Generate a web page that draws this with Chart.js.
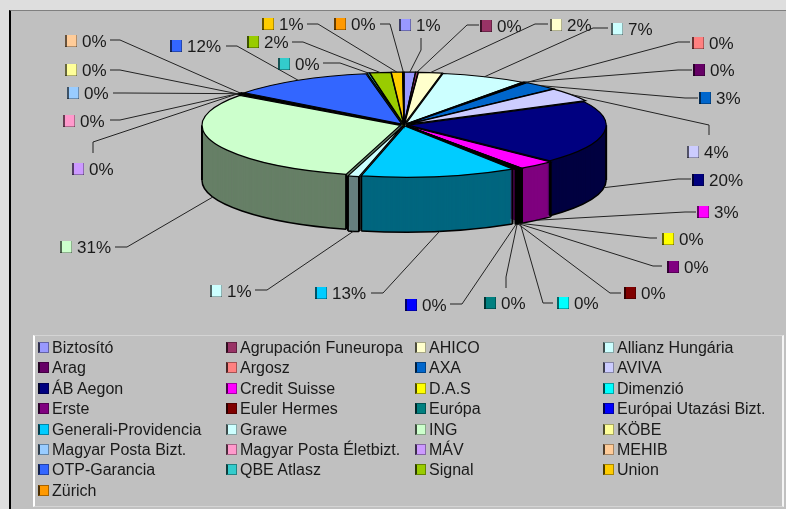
<!DOCTYPE html>
<html>
<head>
<meta charset="utf-8">
<script src="https://cdn.jsdelivr.net/npm/chart.js@4"></script>
<style>
  html, body { margin: 0; padding: 0; background: #dedede; overflow: hidden; }
  #plot { position: absolute; left: 9px; top: 10px; width: 777px; height: 499px; background: #c0c0c0;
          border-left: 2px solid #000; border-top: 1px solid #808080; box-sizing: border-box; }
  #chart { position: absolute; left: 0; top: 0; }
  #legend { position: absolute; left: 33px; top: 335px; width: 751px; height: 172px; box-sizing: border-box;
            border-left: 2px solid #fff; border-right: 2px solid #f4f4f4; border-top: 1px solid #d4d4d4; border-bottom: 1px solid #d4d4d4; }
  .item { position: absolute; height: 20px; font: 16px/20px "Liberation Sans", Arial, sans-serif; color: #1a1a1a; white-space: nowrap; }
  .item i { position: absolute; left: 0; top: 4px; width: 11px; height: 11px; box-sizing: border-box; border: 1px solid rgba(0,0,0,.35); border-left: 2px solid rgba(0,0,0,.7); }
  .item span { position: absolute; left: 14px; top: 0; }
</style>
</head>
<body>
<div id="plot"></div>
<canvas id="chart" width="786" height="509"></canvas>
<div id="legend"></div>
<script>
const categories = ["Biztosító", "Agrupación Funeuropa", "AHICO", "Allianz Hungária", "Arag", "Argosz", "AXA", "AVIVA",
  "ÁB Aegon", "Credit Suisse", "D.A.S", "Dimenzió", "Erste", "Euler Hermes", "Európa", "Európai Utazási Bizt.",
  "Generali-Providencia", "Grawe", "ING", "KÖBE", "Magyar Posta Bizt.", "Magyar Posta Életbizt.", "MÁV", "MEHIB",
  "OTP-Garancia", "QBE Atlasz", "Signal", "Union", "Zürich"];
const shares = [0.9, 0.2, 1.9, 6.9, 0.2, 0.1, 2.8, 4.4,
  19.9, 3.0, 0.1, 0.1, 0.1, 0.1, 0.1, 0.1,
  12.6, 0.9, 30.6, 0.05, 0.05, 0.05, 0.05, 0.3,
  11.6, 0.2, 1.7, 0.9, 0.1];
const colors = ["#9999ff", "#993366", "#ffffcc", "#ccffff", "#660066", "#ff8080", "#0066cc", "#ccccff",
  "#000080", "#ff00ff", "#ffff00", "#00ffff", "#800080", "#800000", "#008080", "#0000ff",
  "#00ccff", "#ccffff", "#ccffcc", "#ffff99", "#99ccff", "#ff99cc", "#cc99ff", "#ffcc99",
  "#3366ff", "#33cccc", "#99cc00", "#ffcc00", "#ff9900"];

// callout placement, same order as categories: swatch x, label y, elbow x/y, line end x/y
const callouts = [
  [399, 25, 421, 50, 421, 38], [480, 26, 467, 25, 479, 25], [550, 25, 535, 24, 548, 24], [611, 29, 593, 28, 608, 28],
  [693, 70, 678, 70, 692, 70], [692, 43, 678, 42, 690, 42], [699, 98, 685, 98, 698, 98], [687, 152, 709, 125, 709, 135],
  [692, 180, 678, 179, 691, 179], [697, 212, 685, 212, 696, 212], [662, 239, 650, 238, 657, 238], [557, 303, 543, 303, 553, 303],
  [667, 267, 653, 266, 662, 266], [624, 293, 610, 293, 621, 293], [484, 303, 506, 277, 506, 288], [405, 305, 462, 304, 450, 304],
  [315, 293, 383, 293, 371, 293], [210, 291, 267, 290, 255, 290], [60, 247, 127, 247, 115, 247], [65, 70, 120, 70, 110, 70],
  [67, 93, 125, 93, 113, 93], [63, 121, 120, 120, 110, 120], [72, 169, 93, 142, 93, 153], [65, 41, 120, 40, 110, 40],
  [170, 46, 237, 46, 226, 46], [278, 64, 340, 63, 323, 63], [247, 42, 303, 42, 292, 42], [262, 24, 318, 24, 307, 24],
  [334, 24, 390, 24, 380, 24]
];

const centerX = 404, centerY = 125, squash = 0.257, depth = 55;
const legendCols = [3, 191, 380, 568], legendRowH = 20.4;

function darken(hex) {
  const n = parseInt(hex.slice(1), 16);
  return `rgb(${(n >> 16) >> 1},${((n >> 8) & 255) >> 1},${(n & 255) >> 1})`;
}

// rim point of a slice in page coordinates
function rimPoint(arc, angle, dy) {
  const off = arc.options.offset / 4;
  const mid = (arc.startAngle + arc.endAngle) / 2;
  const fix = 1 - Math.sin(Math.min(Math.PI, arc.circumference));
  const r = arc.outerRadius + off * fix;
  return {
    x: centerX + Math.cos(mid) * off + Math.cos(angle) * r,
    y: centerY + dy + (Math.sin(mid) * off + Math.sin(angle) * r) * squash
  };
}

function project(ctx, arc, dy) {
  ctx.translate(centerX, centerY + dy);
  ctx.scale(1, squash);
  ctx.translate(-arc.x, -arc.y);
}

function strokeFace(ctx, arc, dy, rimOnly) {
  const off = arc.options.offset / 4;
  const mid = (arc.startAngle + arc.endAngle) / 2;
  const fix = 1 - Math.sin(Math.min(Math.PI, arc.circumference));
  // the lower rim only shows on the front half
  const from = rimOnly ? Math.max(arc.startAngle, 0) : arc.startAngle;
  const to = rimOnly ? Math.min(arc.endAngle, Math.PI) : arc.endAngle;
  if (to <= from) return;
  ctx.save();
  project(ctx, arc, dy);
  ctx.translate(Math.cos(mid) * off, Math.sin(mid) * off);
  ctx.beginPath();
  if (!rimOnly) ctx.moveTo(arc.x, arc.y);
  ctx.arc(arc.x, arc.y, arc.outerRadius + off * fix, from, to);
  if (!rimOnly) ctx.closePath();
  ctx.restore();
  ctx.strokeStyle = "#000";
  ctx.lineWidth = rimOnly ? 1.5 : 1.2;
  ctx.stroke();
}

const pie3d = {
  id: "pie3d",
  beforeDatasetsDraw(chart) {
    const ctx = chart.ctx;
    const arcs = chart.getDatasetMeta(0).data;
    const base = arcs.map((a) => a.options);

    // walls: stack the library's arcs from the bottom up
    arcs.forEach((a, i) => { a.options = Object.assign({}, base[i], { backgroundColor: darken(colors[i]), borderWidth: 0 }); });
    for (let dy = depth; dy > 0; dy--) {
      arcs.forEach((a) => {
        ctx.save();
        project(ctx, a, dy);
        a.draw(ctx);
        ctx.restore();
      });
    }
    arcs.forEach((a) => {
      strokeFace(ctx, a, depth, true);
      // upright edges on the visible half, plus the two silhouette edges
      [a.startAngle, a.endAngle, 0, Math.PI].forEach((ang, k) => {
        if (k > 1 && (ang < a.startAngle || ang > a.endAngle)) return;
        if (Math.sin(ang) < -0.001) return;
        const p = rimPoint(a, ang, 0);
        ctx.beginPath();
        ctx.moveTo(p.x, p.y);
        ctx.lineTo(p.x, p.y + depth);
        ctx.strokeStyle = "#000";
        ctx.lineWidth = 2;
        ctx.stroke();
      });
    });

    // top face
    arcs.forEach((a, i) => {
      a.options = Object.assign({}, base[i], { borderWidth: 0 });
      ctx.save();
      project(ctx, a, 0);
      a.draw(ctx);
      ctx.restore();
      strokeFace(ctx, a, 0, false);
      a.options = base[i];
    });
    return false;
  },
  afterDraw(chart) {
    const ctx = chart.ctx;
    const arcs = chart.getDatasetMeta(0).data;
    const total = shares.reduce((s, v) => s + v, 0);
    ctx.save();
    ctx.font = '17px "Liberation Sans", Arial, sans-serif';
    ctx.textBaseline = "middle";
    ctx.textAlign = "left";
    arcs.forEach((a, i) => {
      const [sx, ly, ex, ey, tx, ty] = callouts[i];
      const mid = (a.startAngle + a.endAngle) / 2;
      const front = Math.sin(mid) > 0;
      const p = rimPoint(a, mid, front ? depth : 0);
      ctx.beginPath();
      ctx.moveTo(p.x, p.y);
      ctx.lineTo(ex, ey);
      ctx.lineTo(tx, ty);
      ctx.strokeStyle = "#222";
      ctx.lineWidth = 1;
      ctx.stroke();
      ctx.fillStyle = colors[i];
      ctx.fillRect(sx, ly - 6, 12, 12);
      ctx.fillStyle = "rgba(0,0,0,.6)";
      ctx.fillRect(sx, ly - 6, 2, 12);
      ctx.fillStyle = "rgba(0,0,0,.3)";
      ctx.fillRect(sx + 11, ly - 6, 1, 12);
      ctx.fillRect(sx, ly + 5, 12, 1);
      ctx.fillStyle = "#1a1a1a";
      ctx.fillText(Math.round(shares[i] / total * 100) + "%", sx + 17, ly + 1);
    });
    ctx.restore();
  }
};

const chart = new Chart(document.getElementById("chart"), {
  type: "pie",
  data: {
    labels: categories,
    datasets: [{ data: shares, backgroundColor: colors, borderWidth: 0, offset: 16 }]
  },
  options: {
    responsive: false,
    animation: false,
    radius: 198,
    plugins: { legend: { display: false }, tooltip: { enabled: false } }
  },
  plugins: [pie3d]
});

const legendBox = document.getElementById("legend");
chart.options.plugins.legend.labels.generateLabels(chart).forEach((item, i) => {
  const el = document.createElement("div");
  el.className = "item";
  el.style.left = legendCols[i % 4] + "px";
  el.style.top = 2 + Math.floor(i / 4) * legendRowH + "px";
  const box = document.createElement("i");
  box.style.backgroundColor = item.fillStyle;
  const txt = document.createElement("span");
  txt.textContent = item.text;
  el.append(box, txt);
  legendBox.appendChild(el);
});
</script>
</body>
</html>
